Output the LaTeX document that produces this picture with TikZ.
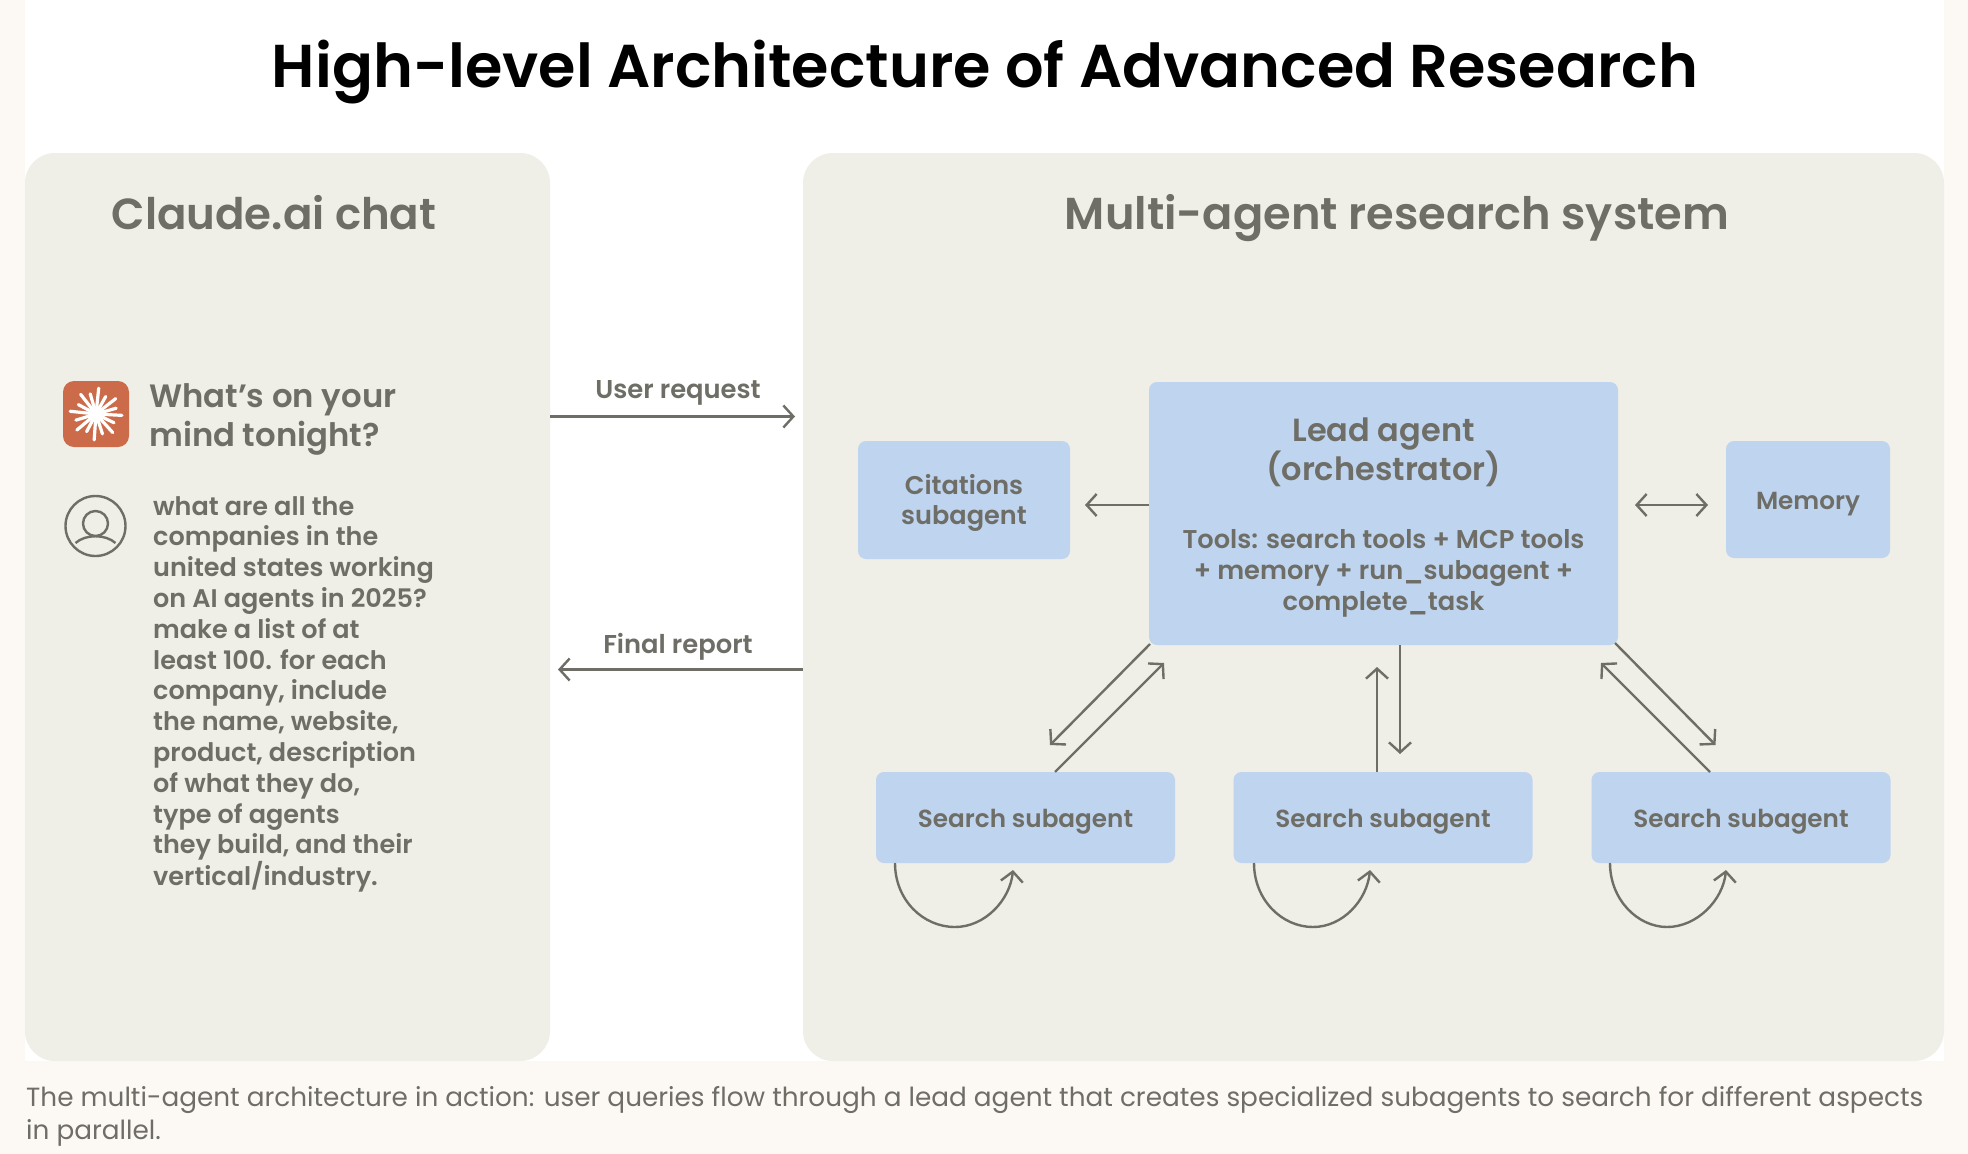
\documentclass[tikz,border=0pt]{standalone}
\usepackage{fontspec}
\usetikzlibrary{arrows.meta,calc}
\setmainfont{Poppins}
\newfontfamily\pbold{Poppins SemiBold}
\newcommand{\leadbig}{\fontsize{32}{39}\selectfont}
\newcommand{\leadsmall}{\fontsize{25.7}{30.8}\selectfont}
\definecolor{pagebg}{HTML}{FCF9F5}
\definecolor{panelbg}{HTML}{EFEEE7}
\definecolor{agentblue}{HTML}{BED4EF}
\definecolor{ink}{HTML}{6E6D66}
\definecolor{logoorange}{HTML}{CC6B4A}
\tikzset{
  panel/.style={fill=panelbg,rounded corners=30pt,inner sep=0pt},
  agent/.style={fill=agentblue,rounded corners=8pt,inner sep=0pt,align=center,text=ink,font=\pbold\fontsize{24.7}{30.8}\selectfont},
  lbl/.style={text=ink,inner sep=0pt,font=\pbold\fontsize{25.8}{30.8}\selectfont},
  head/.style={text=ink,inner sep=0pt,anchor=base,font=\pbold\fontsize{43.5}{50}\selectfont},
  barb/.tip={Straight Barb[length=10pt,width=22pt,line width=2.4pt]},
  conn/.style={draw=ink,line width=2.4pt,-barb},
  iconline/.style={draw=ink,line width=2.4pt},
  ray/.style={draw=white,line width=3.2pt,line cap=round},
}
\begin{document}
\begin{tikzpicture}[x=1pt,y=-1pt]
\useasboundingbox (0,0) rectangle (1968,1154);
\fill[pagebg] (0,0) rectangle (1968,1154);
\fill[white] (25,0) rectangle (1944,1061);
\node[anchor=base,inner sep=0pt,font=\pbold\fontsize{60.5}{64}\selectfont,text=black] (title) at (985,87) {High-level Architecture of Advanced Research};
% panels
\node[panel,minimum width=525pt,minimum height=908pt] (chat) at (287.5,607) {};
\node[panel,minimum width=1141pt,minimum height=908pt] (sys) at (1373.5,607) {};
\node[head] (chathead) at (274,229) {Claude.ai chat};
\node[head,font=\pbold\fontsize{44.7}{50}\selectfont] (syshead) at (1397,229) {Multi-agent research system};
% agents
\node[agent,minimum width=469pt,minimum height=263pt] (lead) at (1383.5,513.5) {%
  \leadbig\rule{0pt}{31.5pt}Lead agent\\\leadbig (orchestrator)\\[37.5pt]%
  \leadsmall Tools: search tools + MCP tools\\\leadsmall + memory + run\_subagent +\\\leadsmall complete\_task};
\node[agent,minimum width=212pt,minimum height=118pt,font=\pbold\fontsize{25.6}{30.8}\selectfont] (cit) at (964,500) {\rule{0pt}{26pt}Citations\\subagent};
\node[agent,minimum width=164pt,minimum height=117pt] (mem) at (1808,499.5) {\rule{0pt}{26pt}Memory};
\node[agent,minimum width=299pt,minimum height=91pt] (s1) at (1025.5,817.5) {\rule{0pt}{26pt}Search subagent};
\node[agent,minimum width=299pt,minimum height=91pt] (s2) at (1383,817.5) {\rule{0pt}{26pt}Search subagent};
\node[agent,minimum width=299pt,minimum height=91pt] (s3) at (1741,817.5) {\rule{0pt}{26pt}Search subagent};
% chat content
\node[fill=logoorange,rounded corners=11pt,minimum width=66pt,minimum height=66pt,inner sep=0pt] (logo) at (96,414) {};
\foreach \a/\r in {3/26,26/20,48/25,72/21,94/26,118/20,140/25,163/21,186/26,208/20,232/25,254/21,276/26,299/20,322/25,344/21}
  \draw[ray] (logo.center) -- ++(\a:\r);
\fill[white] (logo.center) circle (8pt);
\node[iconline,circle,minimum size=60pt,inner sep=0pt] (user) at (95.5,526) {};
\node[iconline,circle,minimum size=25pt,inner sep=0pt] (userhead) at (95.5,523.5) {};
\coordinate (shl) at ($(user.center)+(-20,17)$);
\coordinate (shr) at ($(user.center)+(20,17)$);
\draw[iconline] (shl) .. controls ($(shl)+(10,-9)$) and ($(shr)+(-10,-9)$) .. (shr);
\node[anchor=north west,text=ink,inner sep=0pt,align=left,font=\pbold\fontsize{32.3}{39}\selectfont] (greet) at (149,383) {What’s on your\\mind tonight?};
\node[anchor=north west,text=ink,inner sep=0pt,align=left,font=\pbold\fontsize{25.5}{30.8}\selectfont] (query) at (153,496) {what are all the\\companies in the\\united states working\\on AI agents in 2025?\\make a list of at\\least 100. for each\\company, include\\the name, website,\\product, description\\of what they do,\\type of agents\\they build, and their\\vertical/industry.};
% labels
\node[lbl,anchor=base] (ureq) at (678,398) {User request};
\node[lbl,anchor=base] (frep) at (678,653) {Final report};
% connector ends
\coordinate (reqb) at (795,416.5);
\coordinate (reqa) at (chat.east |- reqb);
\coordinate (repb) at (558,669.5);
\coordinate (repa) at (sys.west |- repb);
\draw[conn] (reqa) -- (reqb);
\draw[conn] (repa) -- (repb);
\coordinate (citto) at (1085,505);
\coordinate (citfrom) at (lead.west |- citto);
\draw[conn] (citfrom) -- (citto);
\coordinate (mema) at (1635,505);
\coordinate (memb) at (1708,505);
\draw[conn,barb-barb] (mema) -- (memb);
% lead <-> search
\coordinate (l1a) at (1150,644);
\coordinate (l1b) at (1050,745);
\coordinate (u1a) at (1055,772);
\coordinate (u1b) at (1164,663);
\coordinate (l2a) at (1400,645);
\coordinate (l2b) at (1400,754);
\coordinate (u2a) at (1377,772);
\coordinate (u2b) at (1377,667);
\coordinate (l3a) at (1615,643);
\coordinate (l3b) at (1715.5,745);
\coordinate (u3a) at (1710,772);
\coordinate (u3b) at (1601,663);
\draw[conn] (l1a) -- (l1b);
\draw[conn] (u1a) -- (u1b);
\draw[conn] (l2a) -- (l2b);
\draw[conn] (u2a) -- (u2b);
\draw[conn] (l3a) -- (l3b);
\draw[conn] (u3a) -- (u3b);
% self loops
\foreach \n/\sx/\bx/\ex in {s1/895/955/1013,s2/1254/1313/1370,s3/1610/1667/1726}{
  \coordinate (\n a) at (\sx,863);
  \coordinate (\n b) at (\bx,927);
  \coordinate (\n c) at (\ex,870);
  \draw[conn] (\n a) .. controls (\sx,900) and (\sx+28,927) .. (\n b) .. controls (\bx+30,927) and (\ex-3,900) .. (\n c);
}
% caption
\node[anchor=north west,text=ink,inner sep=0pt,align=left,font=\fontsize{26.3}{33}\selectfont] (cap) at (26,1086) {The multi-agent architecture in action: user queries flow through a lead agent that creates specialized subagents to search for different aspects\\in parallel.};
\end{tikzpicture}
\end{document}
